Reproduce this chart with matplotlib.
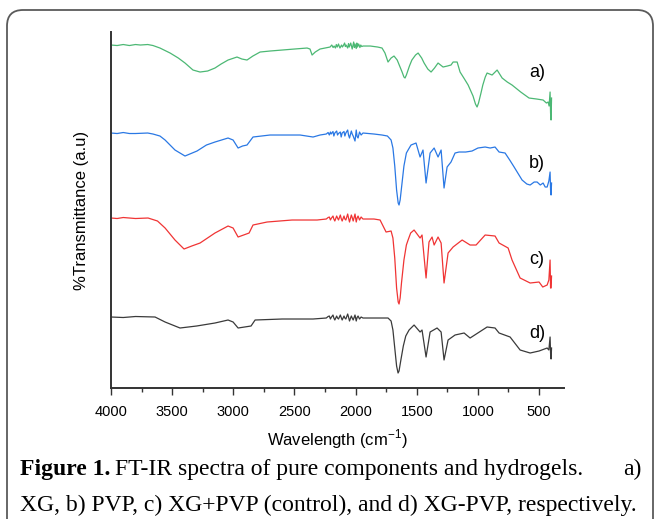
import matplotlib
matplotlib.use("Agg")
import matplotlib.pyplot as plt
from matplotlib.patches import FancyBboxPatch
from matplotlib.transforms import IdentityTransform
from matplotlib.ticker import MultipleLocator

plt.rcParams['font.family'] = 'Liberation Sans'
plt.rcParams['mathtext.fontset'] = 'custom'
plt.rcParams['mathtext.rm'] = 'Liberation Sans'

# FT-IR spectra (wavenumber in cm-1, stacked transmittance in a.u.)
wn_a = [4000, 3950, 3900, 3850, 3800, 3760, 3700, 3657, 3600, 3517, 3450, 3395, 3330, 3272, 3210,
        3150, 3100, 3043, 2970, 2930, 2888, 2840, 2781, 2700, 2600, 2500, 2397, 2373, 2356, 2330,
        2291, 2250, 2209, 2195, 2184, 2176, 2165, 2158, 2150, 2140, 2133, 2128, 2115, 2108, 2100,
        2090, 2084, 2078, 2065, 2058, 2052, 2040, 2034, 2028, 2016, 2010, 2005, 1995, 1990, 1985,
        1975, 1965, 1958, 1950, 1939, 1880, 1820, 1784, 1760, 1735, 1710, 1686, 1660, 1640, 1620,
        1605, 1596, 1585, 1560, 1540, 1510, 1489, 1460, 1440, 1410, 1383, 1355, 1326, 1285, 1250,
        1220, 1203, 1170, 1146, 1110, 1080, 1040, 1020, 1007, 995, 975, 960, 940, 925, 884,
        843, 802, 760, 721, 650, 582, 520, 467, 440, 426, 418, 410, 406, 402, 398]
t_a = [343, 342.5, 343.5, 342.5, 343.5, 343, 343.5, 342.5, 340, 335, 330, 325, 318, 316, 317,
       320, 324, 328, 331, 329, 328, 332, 336, 337, 338, 339, 340, 339, 333, 336,
       339, 340, 341, 343, 340.5, 342, 340, 343.5, 341, 344, 341.5, 340, 343, 341, 342.5,
       345, 341.5, 343, 340, 344.5, 341, 345, 342, 339, 346, 340.5, 344, 339.5, 345, 341,
       344, 340.5, 343, 341.5, 342, 342, 341, 340, 335, 326, 330, 332, 328, 322, 316,
       311, 310, 313, 322, 328, 333, 335, 330, 325, 319, 316, 320, 325, 321, 322,
       323, 326, 326, 316, 309, 303, 292, 284, 281, 285, 295, 303, 311, 315, 313,
       318, 310, 306, 303, 296, 290, 289, 288, 285, 286, 282, 296, 275, 268, 290]

wn_b = [4000, 3950, 3900, 3850, 3800, 3700, 3657, 3600, 3558, 3477, 3395, 3297, 3220, 3150, 3043,
        3002, 2961, 2925, 2888, 2839, 2700, 2454, 2348, 2291, 2240, 2225, 2215, 2206, 2200, 2185,
        2178, 2170, 2155, 2148, 2140, 2125, 2118, 2110, 2095, 2088, 2080, 2065, 2058, 2050, 2035,
        2028, 2020, 2005, 1995, 1988, 1980, 1968, 1955, 1940, 1850, 1784, 1740, 1710, 1695, 1680,
        1665, 1652, 1645, 1636, 1625, 1605, 1585, 1571, 1547, 1506, 1473, 1449, 1424, 1391, 1358,
        1326, 1301, 1277, 1252, 1220, 1187, 1154, 1100, 1048, 1000, 941, 900, 860, 827, 778,
        740, 704, 639, 600, 573, 540, 516, 490, 467, 450, 434, 420, 410, 406, 402, 398]
t_b = [255, 254.5, 255.5, 254.5, 254.5, 255, 254, 252, 248, 238, 232, 237, 243, 246, 250,
       248, 240, 242, 243, 251, 253, 253, 251, 253, 254, 255.5, 253, 256, 254, 256.5,
       252, 255, 257, 253, 254.5, 256, 251, 255, 256.5, 252, 255, 258, 253, 250, 257,
       254, 252, 247, 258, 251.5, 250, 256, 253, 255, 254, 253, 252, 248, 240, 222,
       198, 185, 183, 188, 200, 222, 235, 238, 243, 245, 231, 238, 205, 235, 240,
       231, 238, 200, 221, 226, 235, 236, 236, 237, 240, 241, 240, 241, 236, 235,
       228, 221, 208, 204, 203, 206, 206, 203, 205, 201, 201, 207, 216, 198, 193, 205]

wn_c = [4000, 3950, 3900, 3800, 3697, 3620, 3558, 3477, 3403, 3340, 3272, 3150, 3043, 3002, 2961,
        2871, 2839, 2724, 2520, 2315, 2240, 2225, 2215, 2206, 2200, 2185, 2178, 2170, 2155, 2148,
        2140, 2125, 2118, 2110, 2095, 2088, 2080, 2065, 2058, 2050, 2035, 2028, 2020, 2005, 1995,
        1988, 1980, 1968, 1955, 1940, 1850, 1800, 1751, 1710, 1695, 1680, 1665, 1652, 1645, 1636,
        1625, 1605, 1585, 1571, 1550, 1522, 1473, 1457, 1424, 1400, 1375, 1358, 1326, 1301, 1277,
        1244, 1203, 1129, 1064, 1015, 941, 860, 827, 753, 721, 655, 573, 500, 470, 434,
        420, 410, 406, 402, 398]
t_c = [170, 169.5, 170.5, 169.5, 170, 167, 160, 148, 139, 142, 145, 155, 162, 160, 151,
       155, 163, 166, 168, 168, 169, 170.5, 171, 168, 169.5, 172, 169, 167, 172, 170,
       168, 173, 169.5, 167, 172, 169, 168, 174, 170, 166, 173, 170.5, 167, 174, 166,
       170, 172, 168, 171, 169, 169, 168, 156, 157, 150, 130, 100, 86, 84, 90,
       105, 128, 143, 148, 155, 158, 150, 153, 110, 146, 151, 143, 151, 145, 105,
       135, 141, 148, 143, 143, 153, 152, 145, 140, 128, 110, 105, 106, 101, 103,
       108, 128, 100, 100, 112]

wn_d = [4000, 3900, 3800, 3640, 3558, 3436, 3300, 3150, 3043, 3002, 2961, 2855, 2822, 2600, 2348,
        2240, 2225, 2215, 2206, 2200, 2185, 2178, 2170, 2155, 2148, 2140, 2125, 2118, 2110, 2095,
        2088, 2080, 2065, 2058, 2050, 2035, 2028, 2020, 2005, 1995, 1988, 1980, 1968, 1955, 1940,
        1735, 1710, 1695, 1680, 1665, 1653, 1645, 1630, 1610, 1590, 1563, 1522, 1473, 1457, 1424,
        1391, 1334, 1301, 1277, 1244, 1187, 1113, 1064, 925, 860, 827, 737, 655, 573, 500,
        434, 420, 410, 406, 402, 398]
t_d = [71, 70.5, 71.5, 71, 66, 60, 62, 65, 68, 66, 60, 62, 68, 69, 69,
       70, 71.5, 72, 69, 70.5, 73, 70, 68, 72, 70, 69, 73, 70.5, 68, 72,
       70, 69, 74, 71, 67, 72, 70, 68, 73, 67, 70.5, 72, 69, 71, 70,
       70, 67, 58, 40, 22, 15, 17, 28, 42, 52, 58, 63, 56, 58, 31,
       56, 60, 56, 28, 48, 53, 55, 50, 61, 60, 55, 51, 38, 35, 37,
       40, 38, 51, 35, 29, 40]

labels = ['a)', 'b)', 'c)', 'd)']
label_y = [316, 225, 129, 55]
colors = ['#4cb874', '#2a78e4', '#f03434', '#3a3a3a']

fig = plt.figure(figsize=(6.55, 5.19), dpi=100)

# rounded frame around figure and caption
frame = FancyBboxPatch((7, -40), 646, 549, boxstyle="round,pad=0,rounding_size=16",
                       transform=IdentityTransform(), facecolor='none',
                       edgecolor='#5a5a5a', linewidth=1.3)
fig.add_artist(frame)

ax = fig.add_axes([0.1695, 0.2524, 0.6916, 0.6859])
for wn, t, c in zip([wn_a, wn_b, wn_c, wn_d], [t_a, t_b, t_c, t_d], colors):
    ax.plot(wn, t, color=c, lw=0.9)

for lab, y in zip(labels, label_y):
    ax.text(516, y, lab, fontsize=13, ha='center', va='center')

ax.set_xlim(4000, 296)
ax.set_ylim(0, 356)
ax.set_yticks([])
ax.xaxis.set_major_locator(MultipleLocator(500))
ax.xaxis.set_minor_locator(MultipleLocator(250))
ax.tick_params(axis='x', which='major', direction='out', length=5, width=1, colors='#333333',
               labelsize=10.5, labelcolor='black', pad=7)
ax.tick_params(axis='x', which='minor', direction='out', length=3, width=1, colors='#333333')
for s in ['top', 'right']:
    ax.spines[s].set_visible(False)
for s in ['left', 'bottom']:
    ax.spines[s].set_color('#333333')
    ax.spines[s].set_linewidth(1.4)

ax.set_xlabel(r'Wavelength (cm$^{\mathregular{-1}}$)', fontsize=12, labelpad=6)
ax.set_ylabel('%Transmittance (a.u)', fontsize=12)
ax.yaxis.set_label_coords(-0.048, 0.5)

# caption
fig.canvas.draw()
rend = fig.canvas.get_renderer()
cap_font = 'Liberation Serif'
cap_size = 17
y1 = 1 - 475 / 519
y2 = 1 - 511 / 519
t1 = fig.text(20 / 655, y1, 'Figure 1.', fontsize=cap_size, family=cap_font, weight='bold')
bb = t1.get_window_extent(rend)
fig.text((bb.x1 + 5) / 655, y1, 'FT-IR spectra of pure components and hydrogels.',
         fontsize=cap_size, family=cap_font)
fig.text(641 / 655, y1, 'a)', fontsize=cap_size, family=cap_font, ha='right')
fig.text(20 / 655, y2, 'XG, b) PVP, c) XG+PVP (control), and d) XG-PVP, respectively.',
         fontsize=cap_size, family=cap_font)

fig.savefig('out.png', dpi=100)
